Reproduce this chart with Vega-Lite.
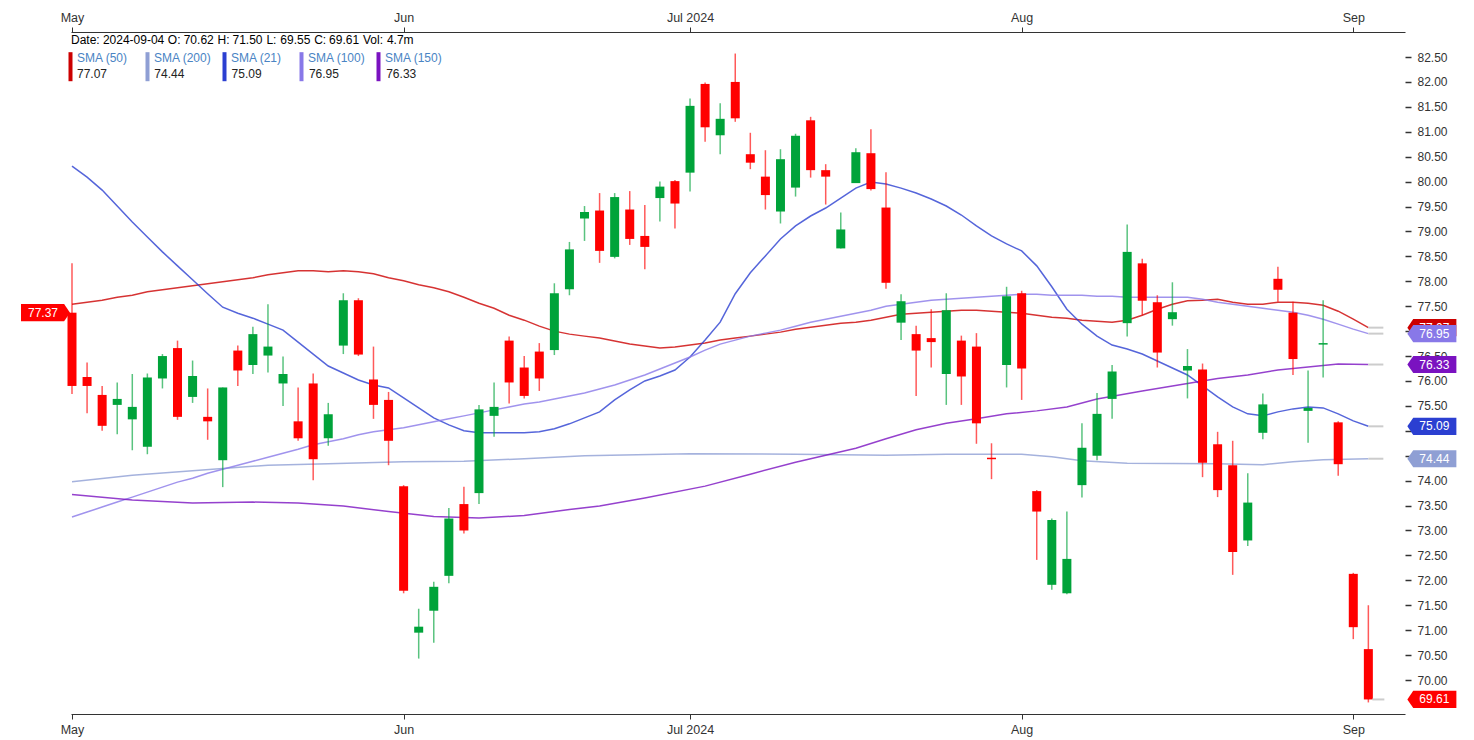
{
"$schema": "https://vega.github.io/schema/vega-lite/v6.json",
"width": 1334, "height": 682,
"autosize": "none",
"padding": {"left": 71, "top": 32, "right": 69, "bottom": 26},
"background": "white",
"config": {"view": {"stroke": null}, "font": "Liberation Sans"},
"resolve": {"axis": {"x": "independent", "y": "independent"}},
"datasets": {
"candles": [
{"date":"2024-05-01","o":77.37,"h":78.36,"l":75.74,"c":75.90},
{"date":"2024-05-02","o":76.08,"h":76.37,"l":75.35,"c":75.90},
{"date":"2024-05-03","o":75.72,"h":75.90,"l":75.00,"c":75.10},
{"date":"2024-05-06","o":75.52,"h":75.97,"l":74.93,"c":75.64},
{"date":"2024-05-07","o":75.23,"h":76.14,"l":74.61,"c":75.48},
{"date":"2024-05-08","o":74.68,"h":76.15,"l":74.53,"c":76.07},
{"date":"2024-05-09","o":76.05,"h":76.54,"l":75.85,"c":76.50},
{"date":"2024-05-10","o":76.66,"h":76.81,"l":75.22,"c":75.28},
{"date":"2024-05-13","o":75.68,"h":76.41,"l":75.56,"c":76.10},
{"date":"2024-05-14","o":75.28,"h":75.85,"l":74.82,"c":75.19},
{"date":"2024-05-15","o":74.41,"h":75.87,"l":73.87,"c":75.87},
{"date":"2024-05-16","o":76.61,"h":76.71,"l":75.90,"c":76.21},
{"date":"2024-05-17","o":76.32,"h":77.09,"l":76.14,"c":76.94},
{"date":"2024-05-20","o":76.51,"h":77.54,"l":76.17,"c":76.69},
{"date":"2024-05-21","o":75.95,"h":76.49,"l":75.50,"c":76.14},
{"date":"2024-05-22","o":75.19,"h":75.87,"l":74.80,"c":74.85},
{"date":"2024-05-23","o":75.95,"h":76.15,"l":74.01,"c":74.43},
{"date":"2024-05-24","o":74.85,"h":75.56,"l":74.70,"c":75.33},
{"date":"2024-05-28","o":76.71,"h":77.76,"l":76.54,"c":77.62},
{"date":"2024-05-29","o":77.62,"h":77.66,"l":76.50,"c":76.53},
{"date":"2024-05-30","o":76.03,"h":76.69,"l":75.24,"c":75.52},
{"date":"2024-05-31","o":75.62,"h":75.78,"l":74.31,"c":74.80},
{"date":"2024-06-03","o":73.89,"h":73.91,"l":71.74,"c":71.79},
{"date":"2024-06-04","o":70.95,"h":71.43,"l":70.43,"c":71.07},
{"date":"2024-06-05","o":71.39,"h":71.97,"l":70.75,"c":71.87},
{"date":"2024-06-06","o":72.09,"h":73.45,"l":71.94,"c":73.24},
{"date":"2024-06-07","o":73.53,"h":73.88,"l":72.94,"c":73.00},
{"date":"2024-06-10","o":73.75,"h":75.52,"l":73.53,"c":75.43},
{"date":"2024-06-11","o":75.30,"h":75.97,"l":74.88,"c":75.48},
{"date":"2024-06-12","o":76.81,"h":76.89,"l":75.55,"c":75.97},
{"date":"2024-06-13","o":76.27,"h":76.50,"l":75.65,"c":75.70},
{"date":"2024-06-14","o":76.59,"h":76.76,"l":75.80,"c":76.05},
{"date":"2024-06-17","o":76.62,"h":77.96,"l":76.52,"c":77.76},
{"date":"2024-06-18","o":77.84,"h":78.79,"l":77.72,"c":78.64},
{"date":"2024-06-20","o":79.26,"h":79.51,"l":78.81,"c":79.39},
{"date":"2024-06-21","o":79.42,"h":79.77,"l":78.37,"c":78.61},
{"date":"2024-06-24","o":78.49,"h":79.77,"l":78.46,"c":79.69},
{"date":"2024-06-25","o":79.44,"h":79.81,"l":78.73,"c":78.85},
{"date":"2024-06-26","o":78.91,"h":79.53,"l":78.24,"c":78.69},
{"date":"2024-06-27","o":79.67,"h":80.00,"l":79.20,"c":79.90},
{"date":"2024-06-28","o":80.01,"h":80.03,"l":79.06,"c":79.56},
{"date":"2024-07-01","o":80.18,"h":81.67,"l":79.80,"c":81.52},
{"date":"2024-07-02","o":81.96,"h":81.99,"l":80.80,"c":81.09},
{"date":"2024-07-03","o":80.93,"h":81.57,"l":80.55,"c":81.26},
{"date":"2024-07-05","o":82.00,"h":82.57,"l":81.20,"c":81.27},
{"date":"2024-07-08","o":80.55,"h":80.98,"l":80.25,"c":80.38},
{"date":"2024-07-09","o":80.10,"h":80.63,"l":79.44,"c":79.73},
{"date":"2024-07-10","o":79.40,"h":80.65,"l":79.16,"c":80.45},
{"date":"2024-07-11","o":79.88,"h":80.96,"l":79.70,"c":80.92},
{"date":"2024-07-12","o":81.23,"h":81.30,"l":80.08,"c":80.23},
{"date":"2024-07-15","o":80.23,"h":80.35,"l":79.54,"c":80.10},
{"date":"2024-07-16","o":78.66,"h":79.38,"l":78.66,"c":79.04},
{"date":"2024-07-17","o":79.97,"h":80.67,"l":79.97,"c":80.59},
{"date":"2024-07-18","o":80.57,"h":81.05,"l":79.82,"c":79.85},
{"date":"2024-07-19","o":79.48,"h":80.19,"l":77.85,"c":77.97},
{"date":"2024-07-22","o":77.17,"h":77.74,"l":76.82,"c":77.60},
{"date":"2024-07-23","o":76.94,"h":77.11,"l":75.70,"c":76.61},
{"date":"2024-07-24","o":76.86,"h":77.44,"l":76.27,"c":76.78},
{"date":"2024-07-25","o":76.14,"h":77.76,"l":75.52,"c":77.42},
{"date":"2024-07-26","o":76.81,"h":76.91,"l":75.52,"c":76.09},
{"date":"2024-07-29","o":76.69,"h":76.96,"l":74.74,"c":75.15},
{"date":"2024-07-30","o":74.46,"h":74.75,"l":74.03,"c":74.43},
{"date":"2024-07-31","o":76.32,"h":77.89,"l":75.87,"c":77.70},
{"date":"2024-08-01","o":77.76,"h":77.81,"l":75.62,"c":76.25},
{"date":"2024-08-02","o":73.79,"h":73.81,"l":72.41,"c":73.38},
{"date":"2024-08-05","o":71.91,"h":73.24,"l":71.81,"c":73.21},
{"date":"2024-08-06","o":71.74,"h":73.38,"l":71.72,"c":72.43},
{"date":"2024-08-07","o":73.91,"h":75.15,"l":73.66,"c":74.66},
{"date":"2024-08-08","o":74.50,"h":75.76,"l":74.41,"c":75.34},
{"date":"2024-08-09","o":75.64,"h":76.32,"l":75.24,"c":76.19},
{"date":"2024-08-12","o":77.16,"h":79.14,"l":76.89,"c":78.59},
{"date":"2024-08-13","o":78.36,"h":78.45,"l":77.32,"c":77.61},
{"date":"2024-08-14","o":77.58,"h":77.72,"l":76.27,"c":76.57},
{"date":"2024-08-15","o":77.24,"h":77.98,"l":77.11,"c":77.38},
{"date":"2024-08-16","o":76.21,"h":76.64,"l":75.65,"c":76.30},
{"date":"2024-08-19","o":76.23,"h":76.35,"l":74.07,"c":74.36},
{"date":"2024-08-20","o":74.73,"h":74.98,"l":73.67,"c":73.81},
{"date":"2024-08-21","o":74.31,"h":74.80,"l":72.11,"c":72.57},
{"date":"2024-08-22","o":72.80,"h":74.15,"l":72.69,"c":73.56},
{"date":"2024-08-23","o":74.96,"h":75.75,"l":74.83,"c":75.53},
{"date":"2024-08-26","o":78.05,"h":78.29,"l":77.59,"c":77.83},
{"date":"2024-08-27","o":77.37,"h":77.59,"l":76.12,"c":76.44},
{"date":"2024-08-28","o":75.40,"h":76.21,"l":74.76,"c":75.46},
{"date":"2024-08-29","o":76.73,"h":77.62,"l":76.07,"c":76.76},
{"date":"2024-08-30","o":75.17,"h":75.19,"l":74.10,"c":74.33},
{"date":"2024-09-03","o":72.13,"h":72.15,"l":70.82,"c":71.06},
{"date":"2024-09-04","o":70.62,"h":71.50,"l":69.55,"c":69.61}
],
"sma": [
{"date":"2024-05-01","name":"SMA (50)","v":77.54},{"date":"2024-05-02","name":"SMA (50)","v":77.58},{"date":"2024-05-03","name":"SMA (50)","v":77.62},{"date":"2024-05-06","name":"SMA (50)","v":77.68},{"date":"2024-05-07","name":"SMA (50)","v":77.72},{"date":"2024-05-08","name":"SMA (50)","v":77.79},{"date":"2024-05-09","name":"SMA (50)","v":77.83},{"date":"2024-05-10","name":"SMA (50)","v":77.87},{"date":"2024-05-13","name":"SMA (50)","v":77.91},{"date":"2024-05-14","name":"SMA (50)","v":77.95},{"date":"2024-05-15","name":"SMA (50)","v":77.99},{"date":"2024-05-16","name":"SMA (50)","v":78.03},{"date":"2024-05-17","name":"SMA (50)","v":78.07},{"date":"2024-05-20","name":"SMA (50)","v":78.13},{"date":"2024-05-21","name":"SMA (50)","v":78.17},{"date":"2024-05-22","name":"SMA (50)","v":78.21},{"date":"2024-05-23","name":"SMA (50)","v":78.21},{"date":"2024-05-24","name":"SMA (50)","v":78.19},{"date":"2024-05-28","name":"SMA (50)","v":78.21},{"date":"2024-05-29","name":"SMA (50)","v":78.19},{"date":"2024-05-30","name":"SMA (50)","v":78.15},{"date":"2024-05-31","name":"SMA (50)","v":78.07},
{"date":"2024-06-03","name":"SMA (50)","v":78.01},{"date":"2024-06-04","name":"SMA (50)","v":77.93},{"date":"2024-06-05","name":"SMA (50)","v":77.87},{"date":"2024-06-06","name":"SMA (50)","v":77.79},{"date":"2024-06-07","name":"SMA (50)","v":77.68},{"date":"2024-06-10","name":"SMA (50)","v":77.56},{"date":"2024-06-11","name":"SMA (50)","v":77.46},{"date":"2024-06-12","name":"SMA (50)","v":77.32},{"date":"2024-06-13","name":"SMA (50)","v":77.22},{"date":"2024-06-14","name":"SMA (50)","v":77.10},{"date":"2024-06-17","name":"SMA (50)","v":77.00},{"date":"2024-06-18","name":"SMA (50)","v":76.94},{"date":"2024-06-20","name":"SMA (50)","v":76.90},{"date":"2024-06-21","name":"SMA (50)","v":76.86},{"date":"2024-06-24","name":"SMA (50)","v":76.80},{"date":"2024-06-25","name":"SMA (50)","v":76.74},{"date":"2024-06-26","name":"SMA (50)","v":76.70},{"date":"2024-06-27","name":"SMA (50)","v":76.66},{"date":"2024-06-28","name":"SMA (50)","v":76.68},
{"date":"2024-07-01","name":"SMA (50)","v":76.72},{"date":"2024-07-02","name":"SMA (50)","v":76.76},{"date":"2024-07-03","name":"SMA (50)","v":76.82},{"date":"2024-07-05","name":"SMA (50)","v":76.86},{"date":"2024-07-08","name":"SMA (50)","v":76.90},{"date":"2024-07-09","name":"SMA (50)","v":76.94},{"date":"2024-07-10","name":"SMA (50)","v":76.98},{"date":"2024-07-11","name":"SMA (50)","v":77.04},{"date":"2024-07-12","name":"SMA (50)","v":77.08},{"date":"2024-07-15","name":"SMA (50)","v":77.12},{"date":"2024-07-16","name":"SMA (50)","v":77.16},{"date":"2024-07-17","name":"SMA (50)","v":77.18},{"date":"2024-07-18","name":"SMA (50)","v":77.22},{"date":"2024-07-19","name":"SMA (50)","v":77.28},{"date":"2024-07-22","name":"SMA (50)","v":77.34},{"date":"2024-07-23","name":"SMA (50)","v":77.36},{"date":"2024-07-24","name":"SMA (50)","v":77.38},{"date":"2024-07-25","name":"SMA (50)","v":77.40},{"date":"2024-07-26","name":"SMA (50)","v":77.42},{"date":"2024-07-29","name":"SMA (50)","v":77.42},{"date":"2024-07-30","name":"SMA (50)","v":77.40},{"date":"2024-07-31","name":"SMA (50)","v":77.38},
{"date":"2024-08-01","name":"SMA (50)","v":77.36},{"date":"2024-08-02","name":"SMA (50)","v":77.32},{"date":"2024-08-05","name":"SMA (50)","v":77.28},{"date":"2024-08-06","name":"SMA (50)","v":77.26},{"date":"2024-08-07","name":"SMA (50)","v":77.22},{"date":"2024-08-08","name":"SMA (50)","v":77.20},{"date":"2024-08-09","name":"SMA (50)","v":77.18},{"date":"2024-08-12","name":"SMA (50)","v":77.22},{"date":"2024-08-13","name":"SMA (50)","v":77.32},{"date":"2024-08-14","name":"SMA (50)","v":77.44},{"date":"2024-08-15","name":"SMA (50)","v":77.54},{"date":"2024-08-16","name":"SMA (50)","v":77.61},{"date":"2024-08-19","name":"SMA (50)","v":77.62},{"date":"2024-08-20","name":"SMA (50)","v":77.64},{"date":"2024-08-21","name":"SMA (50)","v":77.58},{"date":"2024-08-22","name":"SMA (50)","v":77.54},{"date":"2024-08-23","name":"SMA (50)","v":77.54},{"date":"2024-08-26","name":"SMA (50)","v":77.58},{"date":"2024-08-27","name":"SMA (50)","v":77.58},{"date":"2024-08-28","name":"SMA (50)","v":77.56},{"date":"2024-08-29","name":"SMA (50)","v":77.52},{"date":"2024-08-30","name":"SMA (50)","v":77.40},{"date":"2024-09-03","name":"SMA (50)","v":77.24},{"date":"2024-09-04","name":"SMA (50)","v":77.07},
{"date":"2024-05-01","name":"SMA (200)","v":73.98},{"date":"2024-05-07","name":"SMA (200)","v":74.11},{"date":"2024-05-13","name":"SMA (200)","v":74.20},{"date":"2024-05-20","name":"SMA (200)","v":74.31},{"date":"2024-05-24","name":"SMA (200)","v":74.34},{"date":"2024-06-03","name":"SMA (200)","v":74.38},{"date":"2024-06-07","name":"SMA (200)","v":74.39},{"date":"2024-06-13","name":"SMA (200)","v":74.44},{"date":"2024-06-20","name":"SMA (200)","v":74.50},{"date":"2024-07-01","name":"SMA (200)","v":74.54},{"date":"2024-07-11","name":"SMA (200)","v":74.53},{"date":"2024-07-19","name":"SMA (200)","v":74.51},{"date":"2024-07-25","name":"SMA (200)","v":74.53},{"date":"2024-08-01","name":"SMA (200)","v":74.53},{"date":"2024-08-05","name":"SMA (200)","v":74.48},{"date":"2024-08-07","name":"SMA (200)","v":74.40},{"date":"2024-08-12","name":"SMA (200)","v":74.35},{"date":"2024-08-20","name":"SMA (200)","v":74.34},{"date":"2024-08-23","name":"SMA (200)","v":74.32},{"date":"2024-08-27","name":"SMA (200)","v":74.38},{"date":"2024-08-29","name":"SMA (200)","v":74.42},{"date":"2024-09-04","name":"SMA (200)","v":74.44},
{"date":"2024-05-01","name":"SMA (21)","v":80.31},{"date":"2024-05-02","name":"SMA (21)","v":80.09},{"date":"2024-05-03","name":"SMA (21)","v":79.83},{"date":"2024-05-06","name":"SMA (21)","v":79.51},{"date":"2024-05-07","name":"SMA (21)","v":79.19},{"date":"2024-05-08","name":"SMA (21)","v":78.89},{"date":"2024-05-09","name":"SMA (21)","v":78.59},{"date":"2024-05-10","name":"SMA (21)","v":78.31},{"date":"2024-05-13","name":"SMA (21)","v":78.03},{"date":"2024-05-14","name":"SMA (21)","v":77.75},{"date":"2024-05-15","name":"SMA (21)","v":77.48},{"date":"2024-05-16","name":"SMA (21)","v":77.36},{"date":"2024-05-17","name":"SMA (21)","v":77.26},{"date":"2024-05-20","name":"SMA (21)","v":77.14},{"date":"2024-05-21","name":"SMA (21)","v":77.02},{"date":"2024-05-22","name":"SMA (21)","v":76.78},{"date":"2024-05-23","name":"SMA (21)","v":76.54},{"date":"2024-05-24","name":"SMA (21)","v":76.30},{"date":"2024-05-28","name":"SMA (21)","v":76.16},{"date":"2024-05-29","name":"SMA (21)","v":76.02},{"date":"2024-05-30","name":"SMA (21)","v":75.92},{"date":"2024-05-31","name":"SMA (21)","v":75.86},
{"date":"2024-06-03","name":"SMA (21)","v":75.66},{"date":"2024-06-04","name":"SMA (21)","v":75.46},{"date":"2024-06-05","name":"SMA (21)","v":75.26},{"date":"2024-06-06","name":"SMA (21)","v":75.12},{"date":"2024-06-07","name":"SMA (21)","v":75.00},{"date":"2024-06-10","name":"SMA (21)","v":74.96},{"date":"2024-06-11","name":"SMA (21)","v":74.96},{"date":"2024-06-12","name":"SMA (21)","v":74.96},{"date":"2024-06-13","name":"SMA (21)","v":74.96},{"date":"2024-06-14","name":"SMA (21)","v":74.98},{"date":"2024-06-17","name":"SMA (21)","v":75.04},{"date":"2024-06-18","name":"SMA (21)","v":75.14},{"date":"2024-06-20","name":"SMA (21)","v":75.26},{"date":"2024-06-21","name":"SMA (21)","v":75.38},{"date":"2024-06-24","name":"SMA (21)","v":75.62},{"date":"2024-06-25","name":"SMA (21)","v":75.82},{"date":"2024-06-26","name":"SMA (21)","v":76.00},{"date":"2024-06-27","name":"SMA (21)","v":76.10},{"date":"2024-06-28","name":"SMA (21)","v":76.22},
{"date":"2024-07-01","name":"SMA (21)","v":76.48},{"date":"2024-07-02","name":"SMA (21)","v":76.82},{"date":"2024-07-03","name":"SMA (21)","v":77.18},{"date":"2024-07-05","name":"SMA (21)","v":77.75},{"date":"2024-07-08","name":"SMA (21)","v":78.17},{"date":"2024-07-09","name":"SMA (21)","v":78.51},{"date":"2024-07-10","name":"SMA (21)","v":78.85},{"date":"2024-07-11","name":"SMA (21)","v":79.11},{"date":"2024-07-12","name":"SMA (21)","v":79.31},{"date":"2024-07-15","name":"SMA (21)","v":79.47},{"date":"2024-07-16","name":"SMA (21)","v":79.67},{"date":"2024-07-17","name":"SMA (21)","v":79.87},{"date":"2024-07-18","name":"SMA (21)","v":79.99},{"date":"2024-07-19","name":"SMA (21)","v":79.95},{"date":"2024-07-22","name":"SMA (21)","v":79.87},{"date":"2024-07-23","name":"SMA (21)","v":79.77},{"date":"2024-07-24","name":"SMA (21)","v":79.65},{"date":"2024-07-25","name":"SMA (21)","v":79.51},{"date":"2024-07-26","name":"SMA (21)","v":79.33},{"date":"2024-07-29","name":"SMA (21)","v":79.11},{"date":"2024-07-30","name":"SMA (21)","v":78.91},{"date":"2024-07-31","name":"SMA (21)","v":78.75},
{"date":"2024-08-01","name":"SMA (21)","v":78.61},{"date":"2024-08-02","name":"SMA (21)","v":78.31},{"date":"2024-08-05","name":"SMA (21)","v":77.89},{"date":"2024-08-06","name":"SMA (21)","v":77.44},{"date":"2024-08-07","name":"SMA (21)","v":77.14},{"date":"2024-08-08","name":"SMA (21)","v":76.90},{"date":"2024-08-09","name":"SMA (21)","v":76.72},{"date":"2024-08-12","name":"SMA (21)","v":76.64},{"date":"2024-08-13","name":"SMA (21)","v":76.54},{"date":"2024-08-14","name":"SMA (21)","v":76.40},{"date":"2024-08-15","name":"SMA (21)","v":76.26},{"date":"2024-08-16","name":"SMA (21)","v":76.12},{"date":"2024-08-19","name":"SMA (21)","v":75.90},{"date":"2024-08-20","name":"SMA (21)","v":75.68},{"date":"2024-08-21","name":"SMA (21)","v":75.48},{"date":"2024-08-22","name":"SMA (21)","v":75.34},{"date":"2024-08-23","name":"SMA (21)","v":75.30},{"date":"2024-08-26","name":"SMA (21)","v":75.38},{"date":"2024-08-27","name":"SMA (21)","v":75.44},{"date":"2024-08-28","name":"SMA (21)","v":75.48},{"date":"2024-08-29","name":"SMA (21)","v":75.46},{"date":"2024-08-30","name":"SMA (21)","v":75.34},{"date":"2024-09-03","name":"SMA (21)","v":75.20},{"date":"2024-09-04","name":"SMA (21)","v":75.09},
{"date":"2024-05-01","name":"SMA (100)","v":73.27},{"date":"2024-05-02","name":"SMA (100)","v":73.37},{"date":"2024-05-03","name":"SMA (100)","v":73.47},{"date":"2024-05-06","name":"SMA (100)","v":73.57},{"date":"2024-05-07","name":"SMA (100)","v":73.67},{"date":"2024-05-08","name":"SMA (100)","v":73.77},{"date":"2024-05-09","name":"SMA (100)","v":73.87},{"date":"2024-05-10","name":"SMA (100)","v":73.97},{"date":"2024-05-13","name":"SMA (100)","v":74.05},{"date":"2024-05-14","name":"SMA (100)","v":74.15},{"date":"2024-05-15","name":"SMA (100)","v":74.23},{"date":"2024-05-16","name":"SMA (100)","v":74.31},{"date":"2024-05-17","name":"SMA (100)","v":74.39},{"date":"2024-05-20","name":"SMA (100)","v":74.47},{"date":"2024-05-21","name":"SMA (100)","v":74.55},{"date":"2024-05-22","name":"SMA (100)","v":74.63},{"date":"2024-05-23","name":"SMA (100)","v":74.72},{"date":"2024-05-24","name":"SMA (100)","v":74.78},{"date":"2024-05-28","name":"SMA (100)","v":74.84},{"date":"2024-05-29","name":"SMA (100)","v":74.92},{"date":"2024-05-30","name":"SMA (100)","v":74.98},{"date":"2024-05-31","name":"SMA (100)","v":75.02},
{"date":"2024-06-03","name":"SMA (100)","v":75.06},{"date":"2024-06-04","name":"SMA (100)","v":75.12},{"date":"2024-06-05","name":"SMA (100)","v":75.18},{"date":"2024-06-06","name":"SMA (100)","v":75.24},{"date":"2024-06-07","name":"SMA (100)","v":75.30},{"date":"2024-06-10","name":"SMA (100)","v":75.36},{"date":"2024-06-11","name":"SMA (100)","v":75.42},{"date":"2024-06-12","name":"SMA (100)","v":75.48},{"date":"2024-06-13","name":"SMA (100)","v":75.54},{"date":"2024-06-14","name":"SMA (100)","v":75.58},{"date":"2024-06-17","name":"SMA (100)","v":75.64},{"date":"2024-06-18","name":"SMA (100)","v":75.70},{"date":"2024-06-20","name":"SMA (100)","v":75.76},{"date":"2024-06-21","name":"SMA (100)","v":75.84},{"date":"2024-06-24","name":"SMA (100)","v":75.92},{"date":"2024-06-25","name":"SMA (100)","v":76.02},{"date":"2024-06-26","name":"SMA (100)","v":76.12},{"date":"2024-06-27","name":"SMA (100)","v":76.24},{"date":"2024-06-28","name":"SMA (100)","v":76.36},
{"date":"2024-07-01","name":"SMA (100)","v":76.48},{"date":"2024-07-02","name":"SMA (100)","v":76.62},{"date":"2024-07-03","name":"SMA (100)","v":76.74},{"date":"2024-07-05","name":"SMA (100)","v":76.82},{"date":"2024-07-08","name":"SMA (100)","v":76.90},{"date":"2024-07-09","name":"SMA (100)","v":76.96},{"date":"2024-07-10","name":"SMA (100)","v":77.02},{"date":"2024-07-11","name":"SMA (100)","v":77.10},{"date":"2024-07-12","name":"SMA (100)","v":77.18},{"date":"2024-07-15","name":"SMA (100)","v":77.24},{"date":"2024-07-16","name":"SMA (100)","v":77.30},{"date":"2024-07-17","name":"SMA (100)","v":77.36},{"date":"2024-07-18","name":"SMA (100)","v":77.42},{"date":"2024-07-19","name":"SMA (100)","v":77.50},{"date":"2024-07-22","name":"SMA (100)","v":77.54},{"date":"2024-07-23","name":"SMA (100)","v":77.58},{"date":"2024-07-24","name":"SMA (100)","v":77.62},{"date":"2024-07-25","name":"SMA (100)","v":77.64},{"date":"2024-07-26","name":"SMA (100)","v":77.66},{"date":"2024-07-29","name":"SMA (100)","v":77.68},{"date":"2024-07-30","name":"SMA (100)","v":77.70},{"date":"2024-07-31","name":"SMA (100)","v":77.72},
{"date":"2024-08-01","name":"SMA (100)","v":77.74},{"date":"2024-08-02","name":"SMA (100)","v":77.74},{"date":"2024-08-05","name":"SMA (100)","v":77.72},{"date":"2024-08-06","name":"SMA (100)","v":77.72},{"date":"2024-08-07","name":"SMA (100)","v":77.72},{"date":"2024-08-08","name":"SMA (100)","v":77.70},{"date":"2024-08-09","name":"SMA (100)","v":77.70},{"date":"2024-08-12","name":"SMA (100)","v":77.68},{"date":"2024-08-13","name":"SMA (100)","v":77.68},{"date":"2024-08-14","name":"SMA (100)","v":77.68},{"date":"2024-08-15","name":"SMA (100)","v":77.68},{"date":"2024-08-16","name":"SMA (100)","v":77.68},{"date":"2024-08-19","name":"SMA (100)","v":77.64},{"date":"2024-08-20","name":"SMA (100)","v":77.58},{"date":"2024-08-21","name":"SMA (100)","v":77.54},{"date":"2024-08-22","name":"SMA (100)","v":77.50},{"date":"2024-08-23","name":"SMA (100)","v":77.46},{"date":"2024-08-26","name":"SMA (100)","v":77.42},{"date":"2024-08-27","name":"SMA (100)","v":77.38},{"date":"2024-08-28","name":"SMA (100)","v":77.32},{"date":"2024-08-29","name":"SMA (100)","v":77.24},{"date":"2024-08-30","name":"SMA (100)","v":77.14},{"date":"2024-09-03","name":"SMA (100)","v":77.04},{"date":"2024-09-04","name":"SMA (100)","v":76.95},
{"date":"2024-05-01","name":"SMA (150)","v":73.72},{"date":"2024-05-07","name":"SMA (150)","v":73.61},{"date":"2024-05-13","name":"SMA (150)","v":73.55},{"date":"2024-05-17","name":"SMA (150)","v":73.57},{"date":"2024-05-22","name":"SMA (150)","v":73.55},{"date":"2024-05-28","name":"SMA (150)","v":73.49},{"date":"2024-05-31","name":"SMA (150)","v":73.38},{"date":"2024-06-05","name":"SMA (150)","v":73.28},{"date":"2024-06-10","name":"SMA (150)","v":73.25},{"date":"2024-06-13","name":"SMA (150)","v":73.30},{"date":"2024-06-18","name":"SMA (150)","v":73.42},{"date":"2024-06-21","name":"SMA (150)","v":73.49},{"date":"2024-06-26","name":"SMA (150)","v":73.65},{"date":"2024-07-02","name":"SMA (150)","v":73.89},{"date":"2024-07-08","name":"SMA (150)","v":74.13},{"date":"2024-07-11","name":"SMA (150)","v":74.37},{"date":"2024-07-17","name":"SMA (150)","v":74.65},{"date":"2024-07-19","name":"SMA (150)","v":74.84},{"date":"2024-07-23","name":"SMA (150)","v":75.02},{"date":"2024-07-25","name":"SMA (150)","v":75.15},{"date":"2024-07-29","name":"SMA (150)","v":75.24},{"date":"2024-07-31","name":"SMA (150)","v":75.34},{"date":"2024-08-02","name":"SMA (150)","v":75.40},{"date":"2024-08-06","name":"SMA (150)","v":75.48},{"date":"2024-08-08","name":"SMA (150)","v":75.64},{"date":"2024-08-13","name":"SMA (150)","v":75.80},{"date":"2024-08-15","name":"SMA (150)","v":75.90},{"date":"2024-08-19","name":"SMA (150)","v":76.00},{"date":"2024-08-20","name":"SMA (150)","v":76.05},{"date":"2024-08-22","name":"SMA (150)","v":76.12},{"date":"2024-08-26","name":"SMA (150)","v":76.22},{"date":"2024-08-29","name":"SMA (150)","v":76.31},{"date":"2024-08-30","name":"SMA (150)","v":76.34},{"date":"2024-09-04","name":"SMA (150)","v":76.33}
]
},
"layer": [
{
"data": {"name": "sma"},
"mark": {"type": "line", "strokeWidth": 1.5, "opacity": 0.8},
"encoding": {
"x": {"field": "date", "type": "ordinal", "scale": {"type": "point", "domain": {"unionWith": ["2024-09-05", "2024-09-06"]}, "padding": 0.2485, "align": 0.133}, "axis": null},
"y": {"field": "v", "type": "quantitative", "scale": {"domain": [69.318, 83.002], "nice": false, "zero": false}, "axis": null},
"color": {"field": "name", "type": "nominal",
"scale": {"domain": ["SMA (50)", "SMA (200)", "SMA (21)", "SMA (100)", "SMA (150)"], "range": ["#cc0000", "#8f9fd4", "#2b3fd1", "#8878e8", "#7a12c0"]},
"legend": {"orient": "none", "legendX": -10, "legendY": 16.6, "direction": "horizontal", "columns": 5, "gridAlign": "all", "columnPadding": 3, "padding": 0, "title": null,
"values": ["SMA (50)", "SMA (200)", "SMA (21)", "SMA (100)", "SMA (150)"],
"symbolType": "M0,-0.84L0,3.03", "symbolSize": 225, "symbolStrokeWidth": 4, "symbolOpacity": 1,
"labelOffset": -3, "labelFont": "Liberation Sans", "labelFontSize": 12, "labelLimit": 200, "labelColor": "#4a84c4",
"encode": {"labels": {"update": {"fill": {"value": "#4a84c4"}}}, "symbols": {"update": {"opacity": {"value": 1}, "strokeWidth": {"value": 4}}}}}
}
}
},
{
"data": {"name": "candles"},
"mark": {"type": "rule", "strokeWidth": 1.5, "opacity": 0.65},
"encoding": {
"x": {"field": "date", "type": "ordinal", "axis": {"orient": "top", "values": ["2024-05-01", "2024-06-03", "2024-07-01", "2024-08-01", "2024-09-03"], "labelExpr": "utcFormat(toDate(datum.value), '%b') + (datum.value == '2024-07-01' ? ' 2024' : '')", "title": null, "labelAngle": 0, "domainColor": "#333333", "tickColor": "#333333", "tickSize": 5, "labelFontSize": 12.5, "labelColor": "#333333", "labelFont": "Liberation Sans", "labelPadding": 3, "grid": false}},
"y": {"field": "l", "type": "quantitative", "axis": null},
"y2": {"field": "h"},
"color": {"condition": {"test": "datum.c >= datum.o", "value": "#00a33a"}, "value": "#ff0000"}
}
},
{
"data": {"name": "candles"},
"mark": {"type": "bar", "width": 9},
"encoding": {
"x": {"field": "date", "type": "ordinal", "axis": {"orient": "bottom", "values": ["2024-05-01", "2024-06-03", "2024-07-01", "2024-08-01", "2024-09-03"], "labelExpr": "utcFormat(toDate(datum.value), '%b') + (datum.value == '2024-07-01' ? ' 2024' : '')", "title": null, "labelAngle": 0, "domainColor": "#333333", "tickColor": "#333333", "tickSize": 5, "labelFontSize": 12.5, "labelColor": "#333333", "labelFont": "Liberation Sans", "labelPadding": 4, "grid": false}},
"y": {"field": "o", "type": "quantitative", "axis": {"orient": "right", "values": [70, 70.5, 71, 71.5, 72, 72.5, 73, 73.5, 74, 74.5, 75, 75.5, 76, 76.5, 77, 77.5, 78, 78.5, 79, 79.5, 80, 80.5, 81, 81.5, 82, 82.5], "format": ".2f", "title": null, "grid": false, "domain": false, "tickSize": 6, "tickWidth": 1.5, "tickColor": "#333333", "labelPadding": 6, "labelFontSize": 12, "labelColor": "#333333", "labelFont": "Liberation Sans"}},
"y2": {"field": "c"},
"color": {"condition": {"test": "datum.c >= datum.o", "value": "#00a33a"}, "value": "#ff0000"}
}
},
{
"data": {"name": "sma"},
"transform": [{"filter": "datum.date == '2024-09-04'"}],
"mark": {"type": "rule", "strokeWidth": 2, "color": "#cccccc", "x2Offset": 15},
"encoding": {
"x": {"field": "date", "type": "ordinal", "axis": null},
"x2": {"field": "date"},
"y": {"field": "v", "type": "quantitative", "axis": null}
}
},
{
"data": {"name": "candles"},
"transform": [{"filter": "datum.date == '2024-09-04'"}],
"mark": {"type": "rule", "strokeWidth": 2, "color": "#cccccc", "xOffset": 4, "x2Offset": 16},
"encoding": {
"x": {"field": "date", "type": "ordinal", "axis": null},
"x2": {"field": "date"},
"y": {"field": "c", "type": "quantitative", "axis": null}
}
},
{
"data": {"name": "sma"},
"transform": [{"filter": "datum.date == '2024-09-04' && datum.name == 'SMA (50)'"}],
"layer": [
{"mark": {"type": "point", "shape": "M-1,0L-0.76,-0.35L1,-0.35L1,0.35L-0.76,0.35Z", "size": 2401, "filled": true, "opacity": 1, "strokeWidth": 0, "xOffset": 63.5},
"encoding": {"x": {"field": "date", "type": "ordinal", "axis": null}, "y": {"field": "v", "type": "quantitative", "axis": null}, "color": {"field": "name", "type": "nominal", "legend": null}}},
{"mark": {"type": "text", "color": "white", "fontSize": 12, "font": "Liberation Sans", "xOffset": 66, "align": "center", "baseline": "middle"},
"encoding": {"x": {"field": "date", "type": "ordinal", "axis": null}, "y": {"field": "v", "type": "quantitative", "axis": null}, "text": {"field": "v", "type": "quantitative", "format": ".2f"}}}
]
},
{
"data": {"name": "sma"},
"transform": [{"filter": "datum.date == '2024-09-04' && datum.name != 'SMA (50)'"}],
"layer": [
{"mark": {"type": "point", "shape": "M-1,0L-0.76,-0.35L1,-0.35L1,0.35L-0.76,0.35Z", "size": 2401, "filled": true, "opacity": 1, "strokeWidth": 0, "xOffset": 63.5},
"encoding": {"x": {"field": "date", "type": "ordinal", "axis": null}, "y": {"field": "v", "type": "quantitative", "axis": null}, "color": {"field": "name", "type": "nominal", "legend": null}}},
{"mark": {"type": "text", "color": "white", "fontSize": 12, "font": "Liberation Sans", "xOffset": 66, "align": "center", "baseline": "middle"},
"encoding": {"x": {"field": "date", "type": "ordinal", "axis": null}, "y": {"field": "v", "type": "quantitative", "axis": null}, "text": {"field": "v", "type": "quantitative", "format": ".2f"}}}
]
},
{
"data": {"name": "candles"},
"transform": [{"filter": "datum.date == '2024-09-04'"}],
"layer": [
{"mark": {"type": "point", "shape": "M-1,0L-0.76,-0.35L1,-0.35L1,0.35L-0.76,0.35Z", "size": 2401, "filled": true, "opacity": 1, "strokeWidth": 0, "color": "#ff0000", "xOffset": 63.5},
"encoding": {"x": {"field": "date", "type": "ordinal", "axis": null}, "y": {"field": "c", "type": "quantitative", "axis": null}}},
{"mark": {"type": "text", "color": "white", "fontSize": 12, "font": "Liberation Sans", "xOffset": 66, "align": "center", "baseline": "middle"},
"encoding": {"x": {"field": "date", "type": "ordinal", "axis": null}, "y": {"field": "c", "type": "quantitative", "axis": null}, "text": {"field": "c", "type": "quantitative", "format": ".2f"}}}
]
},
{
"data": {"name": "candles"},
"transform": [{"filter": "datum.date == '2024-05-01'"}],
"layer": [
{"mark": {"type": "point", "shape": "M1,0L0.76,-0.35L-1,-0.35L-1,0.35L0.76,0.35Z", "size": 2401, "filled": true, "opacity": 1, "strokeWidth": 0, "color": "#ff0000", "xOffset": -26.5},
"encoding": {"x": {"field": "date", "type": "ordinal", "axis": null}, "y": {"field": "o", "type": "quantitative", "axis": null}}},
{"mark": {"type": "text", "color": "white", "fontSize": 12, "font": "Liberation Sans", "xOffset": -29, "align": "center", "baseline": "middle"},
"encoding": {"x": {"field": "date", "type": "ordinal", "axis": null}, "y": {"field": "o", "type": "quantitative", "axis": null}, "text": {"field": "o", "type": "quantitative", "format": ".2f"}}}
]
},
{
"data": {"name": "sma"},
"transform": [{"filter": "datum.date == '2024-09-04'"}],
"mark": {"type": "point", "opacity": 0},
"encoding": {
"x": {"field": "date", "type": "ordinal", "axis": null},
"y": {"field": "v", "type": "quantitative", "axis": null},
"strokeDash": {"field": "v", "type": "nominal",
"legend": {"orient": "none", "legendX": -10, "legendY": 32, "direction": "horizontal", "columns": 5, "gridAlign": "all", "columnPadding": 30.3, "padding": 0, "title": null,
"values": [77.07, 74.44, 75.09, 76.95, 76.33],
"symbolType": "M0,-1L0,1", "symbolSize": 225, "symbolStrokeWidth": 4, "symbolOpacity": 0,
"labelOffset": -3, "labelFont": "Liberation Sans", "labelFontSize": 12, "labelLimit": 200, "labelColor": "#222222",
"encode": {"labels": {"update": {"fill": {"value": "#222222"}}}, "symbols": {"update": {"opacity": {"value": 0}}}}}
}
}
},
{
"data": {"name": "candles"},
"transform": [{"filter": "datum.date == '2024-09-04'"}],
"mark": {"type": "point", "opacity": 0},
"encoding": {
"x": {"field": "date", "type": "ordinal", "axis": null},
"y": {"field": "c", "type": "quantitative", "axis": null},
"shape": {"field": "date", "type": "nominal",
"legend": {"orient": "none", "legendX": 0, "legendY": 2, "direction": "horizontal", "gridAlign": "none", "columnPadding": 2.9, "padding": 0, "title": null,
"values": ["Date:", "2024-09-04", "O:", "70.62", "H:", "71.50", "L:", "69.55", "C:", "69.61", "Vol:", "4.7m"],
"symbolSize": 0, "symbolStrokeWidth": 0, "symbolOpacity": 0, "labelOffset": -12, "labelFont": "Liberation Sans", "labelFontSize": 12, "labelLimit": 200,
"encode": {"labels": {"update": {"fill": {"signal": "datum.index % 2 == 0 ? '#4a84c4' : '#222222'"}}}}}
}
}
}
]
}
